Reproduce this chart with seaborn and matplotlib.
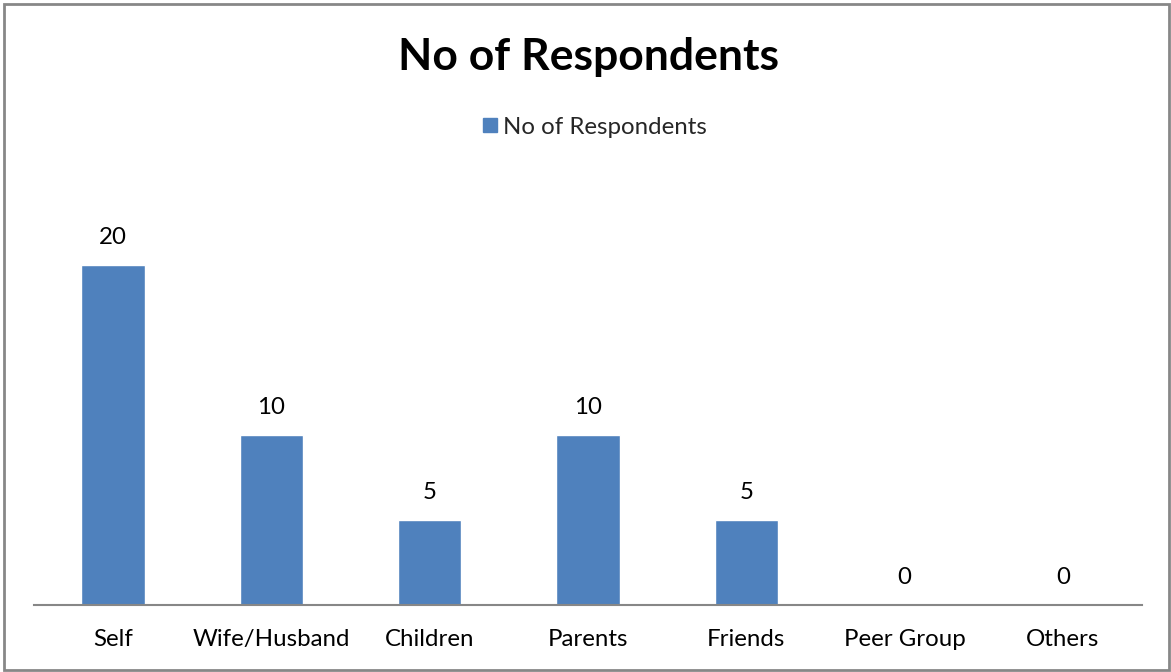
import matplotlib
matplotlib.use("Agg")
import matplotlib.pyplot as plt
import seaborn as sns
import pandas as pd
from matplotlib.patches import Rectangle
from matplotlib.lines import Line2D

categories = ["Self", "Wife/Husband", "Children", "Parents", "Friends", "Peer Group", "Others"]
respondents = [20, 10, 5, 10, 5, 0, 0]
series_name = "No of Respondents"

df = pd.DataFrame({"category": categories, "value": respondents})

sns.set_theme(style="white")
plt.rcParams["font.family"] = ["Lato", "DejaVu Sans"]

bar_color = "#4F81BD"

fig = plt.figure(figsize=(11.71, 6.72), dpi=100)
ax = fig.add_axes([34 / 1171, 1 - 605 / 672, (1142 - 34) / 1171, 425 / 672])

sns.barplot(data=df, x="category", y="value", color=bar_color, width=0.4,
            saturation=1, ax=ax)

ax.set_xlim(-0.5, len(categories) - 0.5)
ax.set_ylim(0, 25)
ax.set_xlabel("")
ax.set_ylabel("")
ax.set_yticks([])
for side in ["top", "left", "right"]:
    ax.spines[side].set_visible(False)
ax.spines["bottom"].set_color("#878787")
ax.spines["bottom"].set_linewidth(1.5)
ax.tick_params(axis="x", length=0, pad=17, labelsize=17.3, labelcolor="black")

for container in ax.containers:
    ax.bar_label(container, labels=[str(v) for v in respondents], padding=12,
                 fontsize=17.3, color="black")

fig.text(589 / 1171, 1 - 57 / 672, series_name, ha="center", va="center",
         fontsize=32, fontweight="bold", color="black")

handle = Line2D([], [], marker="s", linestyle="none", markersize=10.5,
                markerfacecolor=bar_color, markeredgecolor=bar_color)
fig.legend([handle], [series_name], loc="center", bbox_to_anchor=(593 / 1171, 1 - 127 / 672),
           frameon=False, fontsize=17.3, handletextpad=0.1, handlelength=0.9)

fig.add_artist(Rectangle((4 / 1171, 2 / 672), 1165 / 1171, 666 / 672,
                         transform=fig.transFigure, fill=False,
                         edgecolor="#878787", linewidth=2))

fig.savefig("out.png", dpi=100)
